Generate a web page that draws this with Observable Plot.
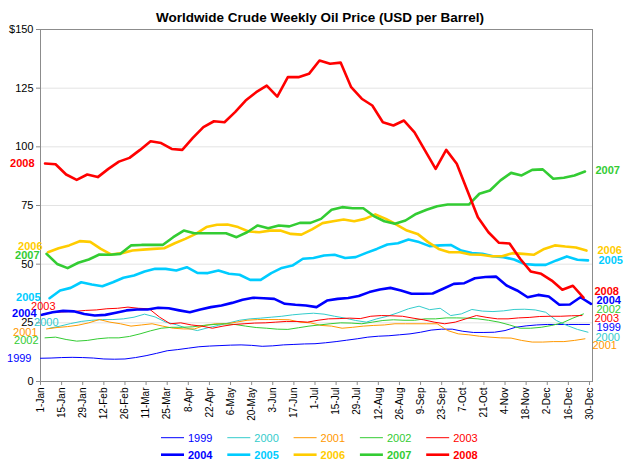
<!DOCTYPE html>
<html>
<head>
<meta charset="utf-8">
<script src="https://cdn.jsdelivr.net/npm/d3@7"></script>
<script src="https://cdn.jsdelivr.net/npm/@observablehq/plot@0.6"></script>
<style>
  html, body { margin: 0; padding: 0; background: #fff; }
  svg { display: block; }
</style>
</head>
<body>
<div id="chart"></div>
<script>
// ---------- DATA ----------
const title = "Worldwide Crude Weekly Oil Price (USD per Barrel)";
const years = ["1999", "2000", "2001", "2002", "2003", "2004", "2005", "2006", "2007", "2008"];
// day-of-year of each year's first weekly (Friday) observation
const startDays = [0, 6, 4, 3, 2, 1, 6, 5, 4, 3];

const v1999 = [9.9,10.0,10.2,10.3,10.2,10.0,9.6,9.5,9.6,10.2,11.0,12.0,13.1,13.6,14.2,14.8,15.1,15.3,15.5,15.6,15.4,15.0,15.2,15.6,15.8,16.0,16.1,16.5,17.0,17.6,18.2,18.9,19.3,19.5,19.9,20.3,21.0,21.9,22.3,22.3,21.4,20.9,20.9,21.0,21.7,23.1,23.7,24.1,24.3,24.3,24.3,24.3,24.3];
const v2000 = [22.7,23.6,24.7,25.6,26.1,26.4,26.4,26.7,27.4,28.7,27.5,25.3,24.2,22.7,21.7,22.9,23.9,25.0,26.1,26.7,27.0,27.4,27.8,28.4,28.8,29.1,28.7,27.8,27.0,26.0,25.3,26.7,27.8,29.3,31.0,32.1,30.6,31.2,28.1,28.8,30.7,30.0,29.8,30.1,30.7,30.8,30.5,29.5,26.0,23.9,22.2,21.0];
const v2001 = [22.4,23.0,23.4,24.0,25.0,26.4,25.3,24.6,23.6,24.1,24.6,23.6,22.7,22.4,22.4,23.9,24.6,24.6,25.3,26.1,26.4,26.4,26.4,26.3,25.3,25.0,23.9,23.6,22.7,23.1,23.6,23.9,24.1,24.6,24.6,24.6,24.6,24.6,21.7,20.3,19.9,19.3,18.9,18.6,18.5,17.5,16.8,16.8,17.0,17.0,17.5,18.2];
const v2002 = [18.6,18.9,17.9,17.2,17.5,18.2,18.6,18.6,19.2,20.3,21.6,22.7,23.1,23.1,23.3,23.9,24.3,24.6,24.3,23.6,23.0,22.7,22.3,22.2,22.9,23.6,24.1,24.6,25.0,24.9,24.6,25.3,26.0,26.3,26.1,26.1,26.7,26.7,27.1,27.1,27.0,26.7,26.1,25.3,24.1,22.7,22.7,23.1,23.9,25.0,27.0,28.8];
const v2003 = [28.8,29.5,29.7,29.9,30.3,30.5,31.0,31.2,31.7,31.2,31.0,27.4,24.6,25.0,24.1,23.6,22.7,23.6,24.3,24.6,24.9,25.0,25.3,25.6,25.6,25.3,26.1,26.7,26.8,27.0,26.8,27.8,28.1,28.0,27.8,27.0,26.3,25.3,24.6,25.3,26.7,28.1,27.3,26.7,26.7,27.1,27.3,27.7,27.8,27.8,28.0,28.1];
const v2004 = [28.4,29.5,30.1,29.9,28.8,28.1,28.4,29.3,30.3,30.7,30.7,31.4,31.2,30.3,29.5,30.7,31.7,32.4,33.5,34.8,35.7,35.5,35.2,33.1,32.7,32.4,31.7,34.5,35.2,35.6,36.4,38.1,39.2,39.9,38.8,37.4,37.4,37.5,39.5,41.6,41.9,44.0,44.5,44.7,40.9,38.8,35.9,36.9,36.2,32.7,32.8,35.9,33.1];
const v2005 = [35.5,38.8,39.9,42.3,41.3,40.6,42.3,44.2,45.2,46.9,48.0,48.0,47.3,48.7,46.3,46.2,47.3,45.9,45.5,43.3,43.3,46.2,48.4,49.4,52.3,52.6,53.7,54.0,52.6,53.0,54.8,56.5,58.4,58.9,60.5,59.4,57.7,58.0,58.2,55.8,54.7,54.4,53.4,53.0,52.0,50.1,49.7,49.7,51.6,53.3,51.9,51.6];
const v2006 = [55.1,56.8,58.0,59.8,59.5,56.5,54.1,54.7,55.8,56.2,56.5,56.8,58.9,60.8,62.9,65.8,66.8,66.9,65.8,63.9,63.6,64.3,64.3,62.9,62.6,64.8,67.5,68.3,69.0,68.3,69.3,71.2,69.3,66.9,64.3,62.9,59.4,56.5,55.1,55.1,54.1,54.0,53.4,53.4,54.7,54.4,54.0,56.5,58.0,57.5,57.1,55.8];
const v2007 = [54.4,50.1,48.3,50.6,52.0,54.1,54.0,54.4,58.0,58.2,58.2,58.2,61.5,64.3,63.2,63.2,63.2,63.2,61.5,63.6,66.5,65.3,66.5,66.1,67.6,67.6,69.3,73.2,74.3,73.8,73.8,70.5,68.3,67.2,68.6,71.4,73.2,74.7,75.4,75.4,75.4,80.0,81.4,85.7,88.9,87.8,90.2,90.4,86.4,86.8,87.8,89.5];
const v2008 = [92.9,92.6,88.2,85.9,88.2,87.1,90.6,93.7,95.3,98.7,102.4,101.6,99.1,98.7,103.8,108.4,110.9,110.5,114.8,119.7,123.3,126.1,121.4,129.7,129.7,131.1,136.8,135.4,135.9,125.4,120.5,117.6,110.5,109.1,111.2,106.2,98.4,90.6,98.7,92.8,81.4,70.0,63.6,59.1,58.8,52.3,46.9,45.9,43.0,39.1,40.8,35.7];

const yTicks = [0, 25, 50, 75, 100, 125, 150];
const tickDays = [0,14,28,42,56,70,84,98,112,126,140,154,168,182,196,210,224,238,252,266,280,294,308,322,336,350,364];
const tickLabels = ["1-Jan","15-Jan","29-Jan","12-Feb","26-Feb","11-Mar","25-Mar","8-Apr","22-Apr","6-May","20-May","3-Jun","17-Jun","1-Jul","15-Jul","29-Jul","12-Aug","26-Aug","9-Sep","23-Sep","7-Oct","21-Oct","4-Nov","18-Nov","2-Dec","16-Dec","30-Dec"];

// ---------- STYLE ----------
const colors = ["#0000FF", "#33CCCC", "#FF9900", "#33CC33", "#FF0000", "#0000FF", "#00CCFF", "#FFCC00", "#33CC33", "#FF0000"];
const thickYears = ["2004", "2005", "2006", "2007", "2008"];
const FONT = "'Liberation Sans', Arial, Helvetica, sans-serif";
// pixel offsets [dx, dy] of the end labels
const leftLabelOffset = {
  "1999": [-9, 0], "2000": [9, -6], "2001": [-9, 4], "2002": [-6.5, 3], "2003": [12, -7],
  "2004": [-5.5, -1], "2005": [-9, -1], "2006": [-5.5, -6], "2007": [-7, 2], "2008": [-10.5, 0]
};
const rightLabelOffset = {
  "1999": [7, 3], "2000": [7.5, 5], "2001": [7.5, 7], "2002": [13, -4], "2003": [12.6, 3],
  "2004": [5.5, -3], "2005": [10.5, 0], "2006": [11, 0], "2007": [10.5, -1], "2008": [11, -6]
};

// ---------- BUILD ----------
const seriesValues = [v1999, v2000, v2001, v2002, v2003, v2004, v2005, v2006, v2007, v2008];
const rows = years.flatMap((yr, k) =>
  seriesValues[k].map((v, i) => ({year: yr, day: startDays[k] + 7 * i, value: v}))
);
const thinRows = rows.filter(d => !thickYears.includes(d.year));
const thickRows = rows.filter(d => thickYears.includes(d.year));
const labelByDay = new Map(tickDays.map((d, i) => [d, tickLabels[i]]));

const labelMarks = [];
years.forEach((yr, k) => {
  const vals = seriesValues[k];
  const first = {year: yr, day: startDays[k], value: vals[0]};
  const last = {year: yr, day: startDays[k] + 7 * (vals.length - 1), value: vals[vals.length - 1]};
  const bold = thickYears.includes(yr);
  const [ldx, ldy] = leftLabelOffset[yr];
  const [rdx, rdy] = rightLabelOffset[yr];
  labelMarks.push(Plot.text([first], {
    x: "day", y: "value", text: "year", fill: "year",
    textAnchor: "end", dx: ldx, dy: ldy,
    fontSize: 11, fontWeight: bold ? "bold" : "normal"
  }));
  labelMarks.push(Plot.text([last], {
    x: "day", y: "value", text: "year", fill: "year",
    textAnchor: "start", dx: rdx, dy: rdy,
    fontSize: 11, fontWeight: bold ? "bold" : "normal"
  }));
});

const chart = Plot.plot({
  width: 641,
  height: 468,
  marginTop: 29,
  marginBottom: 87,
  marginLeft: 40,
  marginRight: 49,
  style: {fontFamily: FONT, fontSize: "11px", background: "#fff", color: "#000", overflow: "visible"},
  x: {domain: [0, 366]},
  y: {domain: [0, 150]},
  color: {domain: years, range: colors},
  marks: [
    Plot.gridY(yTicks.filter(d => d > 0 && d < 150), {stroke: "#e3e3e3", strokeOpacity: 1}),
    Plot.frame({stroke: "#8c8c8c"}),
    Plot.axisY(yTicks, {
      tickFormat: d => d === 150 ? "$150" : String(d),
      tickSize: 4, tickPadding: 3, stroke: "#8c8c8c", fill: "#000",
      fontSize: 11, label: null
    }),
    Plot.axisX(tickDays, {
      tickFormat: d => labelByDay.get(d),
      tickRotate: -90, tickSize: 4, tickPadding: 2,
      stroke: "#8c8c8c", fill: "#000", fontSize: 10, label: null
    }),
    Plot.line(thinRows, {x: "day", y: "value", z: "year", stroke: "year", strokeWidth: 1, strokeLinejoin: "round"}),
    Plot.line(thickRows, {x: "day", y: "value", z: "year", stroke: "year", strokeWidth: 2.6, strokeLinejoin: "round"}),
    ...labelMarks
  ]
});

document.getElementById("chart").appendChild(chart);

// ---------- TITLE & LEGEND ----------
const svg = d3.select(chart);
svg.append("text")
  .attr("x", 320).attr("y", 22)
  .attr("text-anchor", "middle")
  .attr("font-family", FONT)
  .attr("font-size", 13.5)
  .attr("font-weight", "bold")
  .attr("fill", "#000")
  .text(title);

const legend = svg.append("g")
  .attr("font-family", FONT)
  .attr("font-size", 11)
  .attr("text-anchor", "start");
years.forEach((yr, k) => {
  const row = k < 5 ? 0 : 1;
  const col = k % 5;
  const x0 = 161 + col * 66.3;
  const yc = row === 0 ? 437.7 : 454.7;
  const bold = thickYears.includes(yr);
  legend.append("line")
    .attr("x1", x0).attr("x2", x0 + 23)
    .attr("y1", yc).attr("y2", yc)
    .attr("stroke", colors[k])
    .attr("stroke-width", bold ? 2.6 : 1);
  legend.append("text")
    .attr("x", x0 + 27).attr("y", yc)
    .attr("dy", "0.35em")
    .attr("text-anchor", "start")
    .attr("fill", colors[k])
    .attr("font-weight", bold ? "bold" : "normal")
    .text(yr);
});
</script>
</body>
</html>
